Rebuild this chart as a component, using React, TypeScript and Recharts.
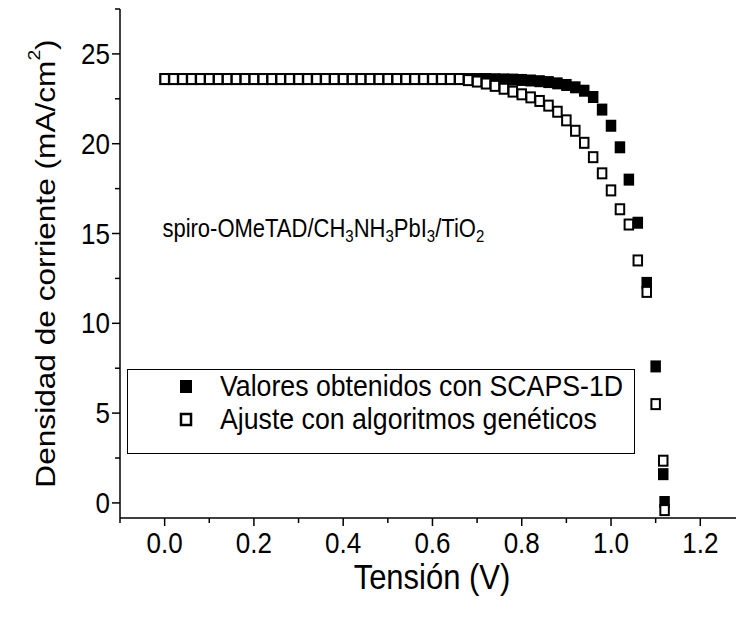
import React from 'react';
import { ScatterChart, Scatter, XAxis, YAxis, ReferenceDot, Legend } from 'recharts';

// Voltage (V)
const voltage = [
  0.0, 0.02, 0.04, 0.06, 0.08, 0.1, 0.12, 0.14, 0.16, 0.18,
  0.2, 0.22, 0.24, 0.26, 0.28, 0.3, 0.32, 0.34, 0.36, 0.38,
  0.4, 0.42, 0.44, 0.46, 0.48, 0.5, 0.52, 0.54, 0.56, 0.58,
  0.6, 0.62, 0.64, 0.66, 0.68, 0.7, 0.72, 0.74, 0.76, 0.78,
  0.8, 0.82, 0.84, 0.86, 0.88, 0.9, 0.92, 0.94, 0.96, 0.98,
  1.0, 1.02, 1.04, 1.06, 1.08, 1.1, 1.117, 1.12,
];

// Valores obtenidos con SCAPS-1D (mA/cm2)
const scapsCurrent = [
  23.6, 23.6, 23.6, 23.6, 23.6, 23.6, 23.6, 23.6, 23.6, 23.6,
  23.6, 23.6, 23.6, 23.6, 23.6, 23.6, 23.6, 23.6, 23.6, 23.6,
  23.6, 23.6, 23.6, 23.6, 23.6, 23.6, 23.6, 23.6, 23.6, 23.6,
  23.6, 23.6, 23.6, 23.6, 23.6, 23.6, 23.6, 23.59, 23.58, 23.57,
  23.55, 23.52, 23.48, 23.43, 23.36, 23.27, 23.14, 22.95, 22.6, 21.9,
  21.0, 19.8, 18.0, 15.6, 12.25, 7.6, 1.6, 0.05,
];

// Ajuste con algoritmos genéticos (mA/cm2)
const fitCurrent = [
  23.6, 23.6, 23.6, 23.6, 23.6, 23.6, 23.6, 23.6, 23.6, 23.6,
  23.6, 23.6, 23.6, 23.6, 23.6, 23.6, 23.6, 23.6, 23.6, 23.6,
  23.6, 23.6, 23.6, 23.6, 23.6, 23.6, 23.6, 23.6, 23.6, 23.6,
  23.6, 23.6, 23.6, 23.6, 23.54, 23.46, 23.35, 23.22, 23.06, 22.9,
  22.75, 22.58, 22.38, 22.12, 21.78, 21.3, 20.72, 20.05, 19.25, 18.35,
  17.4, 16.35, 15.5, 13.5, 11.75, 5.5, 2.35, -0.4,
];

const seriesNames = ['Valores obtenidos con SCAPS-1D', 'Ajuste con algoritmos genéticos'];

const xMajorTicks = [0, 0.2, 0.4, 0.6, 0.8, 1.0, 1.2];
const xMinorTicks = [-0.1, 0.1, 0.3, 0.5, 0.7, 0.9, 1.1];
const yMajorTicks = [0, 5, 10, 15, 20, 25];
const yMinorTicks = [2.5, 7.5, 12.5, 17.5, 22.5, 27.5];

const xDomain = [-0.1, 1.28];
const yDomain = [-0.84, 27.5];

const scapsData = voltage.map((v, i) => ({ v, j: scapsCurrent[i] }));
const fitData = voltage.map((v, i) => ({ v, j: fitCurrent[i] }));

const FONT = '"Liberation Sans", Arial, Helvetica, sans-serif';
const MW = 10.5;
const MH = 12;
const SY = 1.13; // vertical stretch of glyphs seen in the reference

const isMajor = (val: number, majors: number[]) => majors.some((m) => Math.abs(m - val) < 1e-6);

const StretchText = ({ x, y, anchor, size, children }: any) => (
  <g transform={`translate(${x} ${y}) scale(1 ${SY})`}>
    <text x={0} y={0} textAnchor={anchor} dominantBaseline="central" fontFamily={FONT} fontSize={size} fill="#000">
      {children}
    </text>
  </g>
);

const XTick = (props: any) => {
  const { x, y, payload } = props;
  const major = isMajor(payload.value, xMajorTicks);
  return (
    <g>
      <line x1={x} x2={x} y1={y} y2={y + (major ? 8 : 5)} stroke="#000" strokeWidth={1.5} />
      {major && (
        <StretchText x={x} y={y + 25} anchor="middle" size={26}>
          {Number(payload.value).toFixed(1)}
        </StretchText>
      )}
    </g>
  );
};

const YTick = (props: any) => {
  const { x, y, payload } = props;
  const major = isMajor(payload.value, yMajorTicks);
  return (
    <g>
      <line x1={x} x2={x - (major ? 8 : 5)} y1={y} y2={y} stroke="#000" strokeWidth={1.5} />
      {major && (
        <StretchText x={x - 10} y={y} anchor="end" size={26}>
          {payload.value}
        </StretchText>
      )}
    </g>
  );
};

const FilledSquare = (props: any) => {
  const { cx, cy } = props;
  if (cx == null || cy == null) return null;
  return <rect x={cx - MW / 2} y={cy - MH / 2} width={MW} height={MH} fill="#000" />;
};

const OpenSquare = (props: any) => {
  const { cx, cy } = props;
  if (cx == null || cy == null) return null;
  return (
    <rect x={cx - MW / 2 + 1} y={cy - MH / 2 + 1} width={MW - 2} height={MH - 2} fill="#fff" stroke="#000" strokeWidth={2} />
  );
};

const XTitle = (props: any) => {
  const vb = props.viewBox;
  return (
    <StretchText x={vb.x + vb.width / 2 + 4} y={vb.y + 59} anchor="middle" size={31}>
      Tensión (V)
    </StretchText>
  );
};

const YTitle = (props: any) => {
  const vb = props.viewBox;
  const cx = vb.x + 45;
  const cy = vb.y + vb.height / 2;
  return (
    <g transform={`translate(${cx} ${cy}) scale(1 ${SY}) rotate(-90)`}>
      <text x={0} y={0} textAnchor="middle" dominantBaseline="central" fontFamily={FONT} fontSize={28} fill="#000">
        Densidad de corriente (mA/cm
        <tspan dy={-11} fontSize={17}>2</tspan>
        <tspan dy={11}>)</tspan>
      </text>
    </g>
  );
};

const Annotation = (props: any) => {
  const vb = props.viewBox;
  const sub = { fontSize: 15 };
  return (
    <StretchText x={vb.x} y={vb.y} anchor="start" size={22}>
      spiro-OMeTAD/CH<tspan dy={7} {...sub}>3</tspan>
      <tspan dy={-7}>NH</tspan><tspan dy={7} {...sub}>3</tspan>
      <tspan dy={-7}>PbI</tspan><tspan dy={7} {...sub}>3</tspan>
      <tspan dy={-7}>/TiO</tspan><tspan dy={7} {...sub}>2</tspan>
    </StretchText>
  );
};

const LegendBox = (props: any) => {
  const payload = [...(props.payload || [])].sort(
    (a: any, b: any) => seriesNames.indexOf(a.value) - seriesNames.indexOf(b.value)
  );
  return (
    <div
      style={{
        width: 508,
        height: 85,
        boxSizing: 'border-box',
        border: '1px solid #000',
        background: '#fff',
        fontFamily: FONT,
        fontSize: 26.7,
        color: '#000',
        paddingTop: 0,
      }}
    >
      {payload.map((entry: any, idx: number) => {
        const filled = entry.value === seriesNames[0];
        return (
          <div key={idx} style={{ display: 'flex', alignItems: 'center', height: 33, lineHeight: '33px' }}>
            <svg width={92} height={33} style={{ flex: '0 0 auto' }}>
              {filled ? (
                <rect x={52} y={10} width={12} height={13} fill="#000" />
              ) : (
                <rect x={53} y={11} width={10} height={11} fill="#fff" stroke="#000" strokeWidth={2.5} />
              )}
            </svg>
            <span style={{ whiteSpace: 'nowrap', display: 'inline-block', transform: `scaleY(${SY})` }}>{entry.value}</span>
          </div>
        );
      })}
    </div>
  );
};

export default function App() {
  return (
    <div style={{ position: 'absolute', left: 0, top: 0, width: 736, height: 617, background: '#fff' }}>
      <ScatterChart width={736} height={617} margin={{ top: 9, right: 0, bottom: 0, left: 0 }}>
        <XAxis
          type="number"
          dataKey="v"
          domain={xDomain}
          ticks={[...xMinorTicks, ...xMajorTicks].sort((a, b) => a - b)}
          allowDataOverflow
          height={99}
          tickSize={0}
          tickMargin={0}
          tickLine={false}
          tick={<XTick />}
          interval={0}
          axisLine={{ stroke: '#000', strokeWidth: 1.5 }}
          label={<XTitle />}
        />
        <YAxis
          type="number"
          dataKey="j"
          domain={yDomain}
          ticks={[...yMajorTicks, ...yMinorTicks].sort((a, b) => a - b)}
          allowDataOverflow
          width={120}
          tickSize={0}
          tickMargin={0}
          tickLine={false}
          tick={<YTick />}
          interval={0}
          axisLine={{ stroke: '#000', strokeWidth: 1.5 }}
          label={<YTitle />}
        />
        <Legend
          layout="vertical"
          align="center"
          verticalAlign="middle"
          content={<LegendBox />}
          wrapperStyle={{ left: 127, top: 369, width: 508, height: 85 }}
        />
        <Scatter name={seriesNames[0]} data={scapsData} shape={<FilledSquare />} isAnimationActive={false} legendType="square" fill="#000" />
        <Scatter name={seriesNames[1]} data={fitData} shape={<OpenSquare />} isAnimationActive={false} legendType="square" fill="#fff" />
        <ReferenceDot x={-0.005} y={15.3} r={0} fill="none" stroke="none" label={<Annotation />} />
      </ScatterChart>
    </div>
  );
}
